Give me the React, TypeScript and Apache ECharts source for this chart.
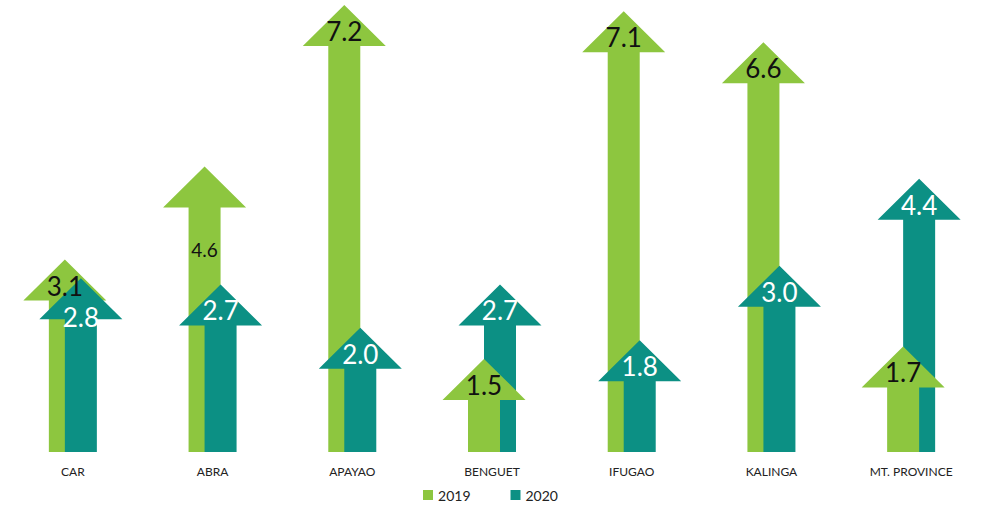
import React, { useEffect, useRef } from "react";
import * as echarts from "echarts";

const categories = ["CAR", "ABRA", "APAYAO", "BENGUET", "IFUGAO", "KALINGA", "MT. PROVINCE"];
const values2019 = [3.1, 4.6, 7.2, 1.5, 7.1, 6.6, 1.7];
const values2020 = [2.8, 2.7, 2.0, 2.7, 1.8, 3.0, 4.4];
const seriesNames = ["2019", "2020"];

const GREEN = "#8dc63f";
const TEAL = "#0c9084";
const FONT = "Lato, 'Open Sans', sans-serif";

function makeRender(own: number[], other: number[], dx: number, color: string, labelColor: string, isFirst: boolean) {
  return (params: any, api: any) => {
    const idx = api.value(0);
    const val = api.value(1);
    const tip = api.coord([idx, val]);
    const base = api.coord([idx, 0]);
    const cx = tip[0] + dx;
    const headH = 41;
    const headW = 83;
    const shaftW = 32;
    const hb = tip[1] + headH;
    const front = own[idx] <= other[idx];
    const z2 = front ? 20 : 10;
    // ABRA 2019 label sits inside the shaft in the reference
    const inShaft = isFirst && categories[idx] === "ABRA";
    // when the two arrows nearly coincide, the lower label is pushed down
    const crowded = front && Math.abs(own[idx] - other[idx]) < 0.5;
    let ly = tip[1] + 26;
    if (inShaft) ly = tip[1] + 83;
    else if (crowded) ly = tip[1] + 39;
    return {
      type: "group",
      children: [
        {
          type: "polygon",
          z2,
          shape: {
            points: [
              [cx - shaftW / 2, base[1]],
              [cx - shaftW / 2, hb],
              [cx - headW / 2, hb],
              [cx, tip[1]],
              [cx + headW / 2, hb],
              [cx + shaftW / 2, hb],
              [cx + shaftW / 2, base[1]],
            ],
          },
          style: { fill: color },
        },
        {
          type: "text",
          z2: 100,
          x: cx,
          y: ly,
          style: {
            text: val.toFixed(1),
            fill: labelColor,
            font: `${inShaft ? 19 : 26}px ${FONT}`,
            align: "center",
            verticalAlign: "middle",
          },
        },
      ],
    };
  };
}

export default function App() {
  const ref = useRef<HTMLDivElement>(null);
  useEffect(() => {
    document.body.style.margin = "0";
    const chart = echarts.init(ref.current!, null, { renderer: "svg" });
    chart.setOption({
      animation: false,
      grid: { left: 3, width: 1008, top: 5, bottom: 56 },
      legend: {
        bottom: 1,
        left: "center",
        itemGap: 40,
        itemWidth: 10,
        itemHeight: 10,
        icon: "rect",
        textStyle: { fontSize: 14, color: "#222", fontFamily: FONT },
        data: seriesNames,
      },
      xAxis: {
        type: "category",
        data: categories,
        axisLine: { show: false },
        axisTick: { show: false },
        axisLabel: { fontSize: 12, color: "#222", margin: 13, fontFamily: FONT },
      },
      yAxis: {
        type: "value",
        min: 0,
        max: 7.2,
        show: false,
        splitLine: { show: false },
      },
      series: [
        {
          name: seriesNames[0],
          type: "custom",
          itemStyle: { color: GREEN },
          encode: { x: 0, y: 1 },
          data: values2019.map((v, i) => [i, v]),
          renderItem: makeRender(values2019, values2020, -8, GREEN, "#111", true),
        },
        {
          name: seriesNames[1],
          type: "custom",
          itemStyle: { color: TEAL },
          encode: { x: 0, y: 1 },
          data: values2020.map((v, i) => [i, v]),
          renderItem: makeRender(values2020, values2019, 8, TEAL, "#fff", false),
        },
      ],
    });
    return () => chart.dispose();
  }, []);
  return <div ref={ref} style={{ width: 981, height: 508 }} />;
}
